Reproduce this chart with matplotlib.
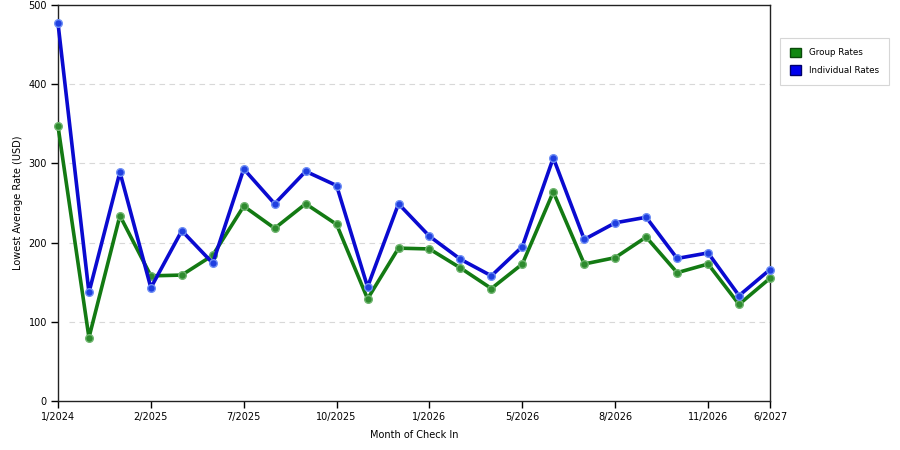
import matplotlib
matplotlib.use("Agg")
import matplotlib.pyplot as plt
from matplotlib.patches import Patch

months = ["1/2024", "", "", "2/2025", "", "", "7/2025", "", "", "10/2025", "", "",
          "1/2026", "", "", "5/2026", "", "", "8/2026", "", "", "11/2026", "", "6/2027"]
group_rates = [347, 80, 234, 158, 159, 184, 246, 218, 249, 223, 129, 193,
               192, 168, 142, 173, 264, 173, 181, 207, 162, 173, 122, 155]
individual_rates = [477, 137, 289, 143, 215, 174, 293, 249, 290, 272, 144, 249,
                    208, 179, 158, 195, 307, 204, 225, 232, 180, 187, 133, 166]
yticks = [0, 100, 200, 300, 400, 500]

fig = plt.figure(figsize=(9, 4.5), dpi=100)
ax = fig.add_axes([58/900, 1-401/450, (770-58)/900, (401-5)/450])

x = list(range(len(months)))
green = "#137a13"
blue = "#0a0ad0"
ax.plot(x, group_rates, color=green, lw=2.6, marker="o", ms=5.5,
        mfc="#2e8b2e", mec="#6fb56f", mew=1.0, zorder=3, clip_on=False)
ax.plot(x, individual_rates, color=blue, lw=2.6, marker="o", ms=5.5,
        mfc="#1f3fe0", mec="#6f8ff5", mew=1.0, zorder=4, clip_on=False)

ax.set_xlim(0, len(months)-1)
ax.set_ylim(0, 500)
ax.set_yticks(yticks)
ax.set_yticklabels([str(v) for v in yticks], fontsize=7)
tick_idx = [i for i, m in enumerate(months) if m]
ax.set_xticks(tick_idx)
ax.set_xticklabels([months[i] for i in tick_idx], fontsize=7)
ax.tick_params(direction="out", length=5, width=1, colors="black", pad=3)
for gv in yticks[1:-1]:
    ax.axhline(gv, xmin=0.015, color="#d8d8d8", lw=0.8, ls=(0, (5, 4)), zorder=1)
for s in ax.spines.values():
    s.set_color("#222222")
    s.set_linewidth(1)

ax.set_xlabel("Month of Check In", fontsize=7, labelpad=6)
ax.set_ylabel("Lowest Average Rate (USD)", fontsize=7, labelpad=4)

handles = [Patch(facecolor="#118811", edgecolor="#0a4a0a", label="Group Rates"),
           Patch(facecolor="#0000ee", edgecolor="#00006a", label="Individual Rates")]
leg = fig.legend(handles=handles, loc="upper left", bbox_to_anchor=(780/900, 1-38/450),
                 fontsize=6.3, frameon=True, fancybox=False, edgecolor="#cccccc",
                 handlelength=1.3, handleheight=1.3, handletextpad=0.9,
                 borderpad=1.1, labelspacing=0.9, borderaxespad=0)
leg.get_frame().set_linewidth(0.8)

fig.savefig("out.png", dpi=100)
